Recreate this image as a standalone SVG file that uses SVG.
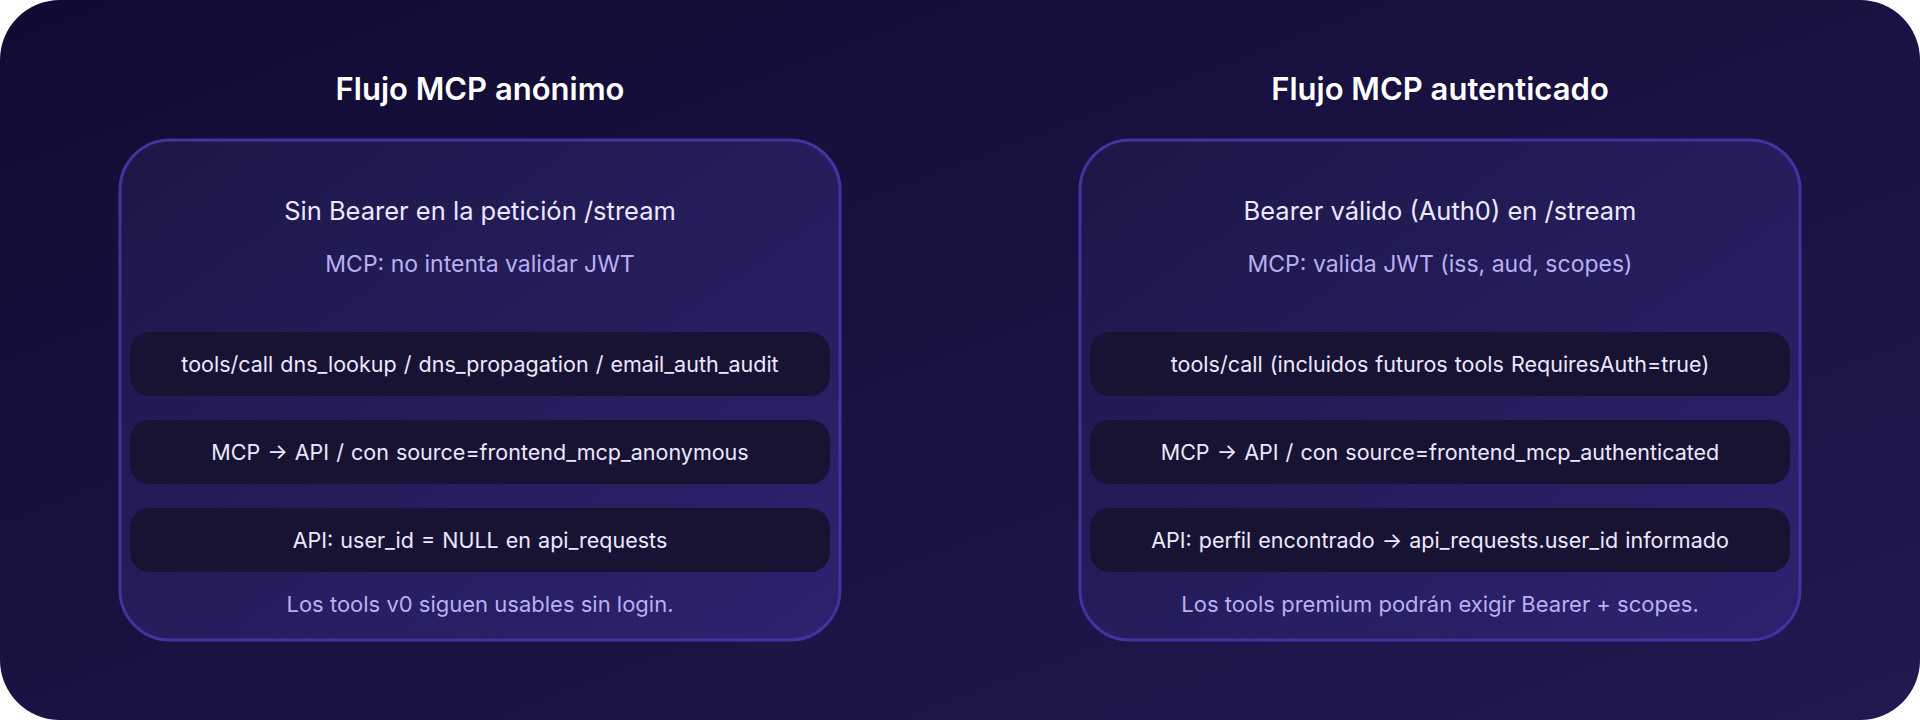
<svg xmlns="http://www.w3.org/2000/svg" width="1920" height="720" viewBox="0 0 1920 720">
<defs>
<linearGradient id="bg" x1="0" y1="0" x2="1" y2="1">
<stop offset="0" stop-color="#110b33"/>
<stop offset="1" stop-color="#231850"/>
</linearGradient>
<linearGradient id="panel" x1="0" y1="0" x2="1" y2="1">
<stop offset="0" stop-color="#1d1747"/>
<stop offset="1" stop-color="#2e2270"/>
</linearGradient>
<style>
.panel{fill:url(#panel);stroke:#4333a0;stroke-width:3}
.box{fill:#181233}
.title{font-family:Inter,"Noto Sans",sans-serif;font-size:31px;font-weight:600;fill:#ffffff;text-anchor:middle}
.head{font-family:Inter,"Noto Sans",sans-serif;font-size:25.5px;fill:#ece8ff;text-anchor:middle}
.sub{font-family:Inter,"Noto Sans",sans-serif;font-size:23px;fill:#b9b0f2;text-anchor:middle}
.btxt{font-family:Inter,"Noto Sans",sans-serif;font-size:21.5px;fill:#ece8ff;text-anchor:middle;word-spacing:1px}
.foot{font-family:Inter,"Noto Sans",sans-serif;font-size:22px;fill:#b9b0f2;text-anchor:middle}
</style>
</defs>
<rect x="0" y="0" width="1920" height="720" rx="60" fill="url(#bg)"/>
<g id="connectors"></g>
<g id="anon">
<text class="title" x="480" y="100">Flujo MCP anónimo</text>
<rect class="panel" x="120" y="140" width="720" height="500" rx="50"/>
<text class="head" x="480" y="220">Sin Bearer en la petición /stream</text>
<text class="sub" x="480" y="272">MCP: no intenta validar JWT</text>
<g id="anon-1"><rect class="box" x="130" y="332" width="700" height="64" rx="20"/><text class="btxt" x="480" y="371.5">tools/call dns_lookup / dns_propagation / email_auth_audit</text></g>
<g id="anon-2"><rect class="box" x="130" y="420" width="700" height="64" rx="20"/><text class="btxt" x="480" y="459.5">MCP → API / con source=frontend_mcp_anonymous</text></g>
<g id="anon-3"><rect class="box" x="130" y="508" width="700" height="64" rx="20"/><text class="btxt" x="480" y="547.5">API: user_id = NULL en api_requests</text></g>
<text class="foot" x="480" y="612">Los tools v0 siguen usables sin login.</text>
</g>
<g id="auth">
<text class="title" x="1440" y="100">Flujo MCP autenticado</text>
<rect class="panel" x="1080" y="140" width="720" height="500" rx="50"/>
<text class="head" x="1440" y="220">Bearer válido (Auth0) en /stream</text>
<text class="sub" x="1440" y="272">MCP: valida JWT (iss, aud, scopes)</text>
<g id="auth-1"><rect class="box" x="1090" y="332" width="700" height="64" rx="20"/><text class="btxt" x="1440" y="371.5">tools/call (incluidos futuros tools RequiresAuth=true)</text></g>
<g id="auth-2"><rect class="box" x="1090" y="420" width="700" height="64" rx="20"/><text class="btxt" x="1440" y="459.5">MCP → API / con source=frontend_mcp_authenticated</text></g>
<g id="auth-3"><rect class="box" x="1090" y="508" width="700" height="64" rx="20"/><text class="btxt" x="1440" y="547.5">API: perfil encontrado → api_requests.user_id informado</text></g>
<text class="foot" x="1440" y="612">Los tools premium podrán exigir Bearer + scopes.</text>
</g>
</svg>
